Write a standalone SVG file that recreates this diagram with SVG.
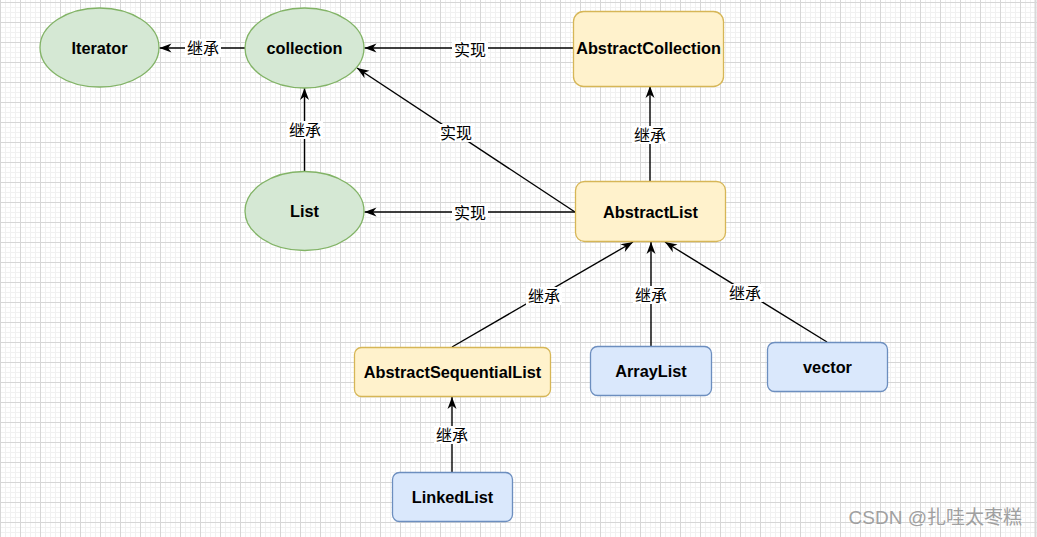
<svg xmlns="http://www.w3.org/2000/svg" width="1037" height="537" viewBox="0 0 1037 537">
  <defs>
    <pattern id="grid" patternUnits="userSpaceOnUse" x="20" y="2" width="20" height="20">
      <rect width="20" height="20" fill="#ffffff"/>
      <path d="M5.5 0V20M10.5 0V20M15.5 0V20M0 5.5H20M0 10.5H20M0 15.5H20" stroke="#f1f1f1" stroke-width="1" fill="none"/>
      <path d="M0.5 0V20M0 0.5H20" stroke="#d6d6d6" stroke-width="1" fill="none"/>
    </pattern>
    <marker id="arr" markerUnits="userSpaceOnUse" markerWidth="14" markerHeight="12" refX="12" refY="4.5" orient="auto" overflow="visible">
      <path d="M0,0 L12,4.5 L0,9 L3.5,4.5 z" fill="#000"/>
    </marker>
    <style>
      .ell { fill: #d5e8d4; stroke: #82b366; stroke-width: 1.3; }
      .yel { fill: #fff2cc; stroke: #d6b656; stroke-width: 1.3; }
      .blu { fill: #dae8fc; stroke: #6c8ebf; stroke-width: 1.3; }
      .nt { font-family: "Liberation Sans", Arial, sans-serif; font-weight: bold; font-size: 16.3px; fill: #000; text-anchor: middle; }
      .edge { stroke: #000; stroke-width: 1.4; fill: none; marker-end: url(#arr); }
      .lbg { fill: #ffffff; }
      .lt { font-family: "Noto Sans CJK SC", "Noto Sans", sans-serif; font-size: 16px; fill: #000; text-anchor: middle; }
    </style>
  </defs>
  <rect width="1037" height="537" fill="url(#grid)"/>
  <line x1="1035.5" y1="0" x2="1035.5" y2="537" stroke="#d8d8d8" stroke-width="2"/>

  <g id="connectors">
    <path class="edge" d="M245,48 L159.5,48"/>
    <rect class="lbg" x="185" y="39" width="36" height="18"/>
    <text class="lt" x="203" y="53.5">继承</text>

    <path class="edge" d="M573,48 L364.5,48"/>
    <rect class="lbg" x="452" y="41" width="36" height="18"/>
    <text class="lt" x="470" y="55.5">实现</text>

    <path class="edge" d="M304.5,172 L304.5,88"/>
    <rect class="lbg" x="287" y="121" width="36" height="18"/>
    <text class="lt" x="305" y="135.5">继承</text>

    <path class="edge" d="M575,212 L357,68"/>
    <rect class="lbg" x="438" y="124" width="36" height="18"/>
    <text class="lt" x="456" y="138.5">实现</text>

    <path class="edge" d="M575,212 L364.5,212"/>
    <rect class="lbg" x="452" y="204" width="36" height="18"/>
    <text class="lt" x="470" y="218.5">实现</text>

    <path class="edge" d="M650,181 L650,86"/>
    <rect class="lbg" x="632" y="126" width="36" height="18"/>
    <text class="lt" x="650" y="140.5">继承</text>

    <path class="edge" d="M452,347 L633,242"/>
    <rect class="lbg" x="526" y="287" width="36" height="18"/>
    <text class="lt" x="544" y="301.5">继承</text>

    <path class="edge" d="M651,346 L651,242"/>
    <rect class="lbg" x="633" y="286" width="36" height="18"/>
    <text class="lt" x="651" y="300.5">继承</text>

    <path class="edge" d="M827,342 L665,242"/>
    <rect class="lbg" x="727" y="284" width="36" height="18"/>
    <text class="lt" x="745" y="298.5">继承</text>

    <path class="edge" d="M452,472 L452,397"/>
    <rect class="lbg" x="434" y="426" width="36" height="18"/>
    <text class="lt" x="452" y="440.5">继承</text>
  </g>

  <g id="node-iterator">
    <ellipse class="ell" cx="99.5" cy="47.5" rx="59.5" ry="39.5"/>
    <text class="nt" x="99.5" y="53.5">Iterator</text>
  </g>
  <g id="node-collection">
    <ellipse class="ell" cx="304.5" cy="48" rx="59.5" ry="40"/>
    <text class="nt" x="304.5" y="54">collection</text>
  </g>
  <g id="node-list">
    <ellipse class="ell" cx="304.5" cy="211" rx="59.5" ry="39.5"/>
    <text class="nt" x="304.5" y="217">List</text>
  </g>
  <g id="node-abstractcollection">
    <rect class="yel" x="573.5" y="11.5" width="150" height="75" rx="10"/>
    <text class="nt" x="648.5" y="54">AbstractCollection</text>
  </g>
  <g id="node-abstractlist">
    <rect class="yel" x="575.5" y="181.5" width="150" height="60" rx="9"/>
    <text class="nt" x="650.5" y="217.5">AbstractList</text>
  </g>
  <g id="node-abstractsequentiallist">
    <rect class="yel" x="354.5" y="347.5" width="196" height="49" rx="7"/>
    <text class="nt" x="452.5" y="377.5">AbstractSequentialList</text>
  </g>
  <g id="node-arraylist">
    <rect class="blu" x="590.5" y="346.5" width="121" height="49" rx="7"/>
    <text class="nt" x="651" y="376.5">ArrayList</text>
  </g>
  <g id="node-vector">
    <rect class="blu" x="767.5" y="342.5" width="120" height="49" rx="7"/>
    <text class="nt" x="827.5" y="372.5">vector</text>
  </g>
  <g id="node-linkedlist">
    <rect class="blu" x="392.5" y="472.5" width="120" height="49" rx="7"/>
    <text class="nt" x="452.5" y="502.5">LinkedList</text>
  </g>

  <text x="1022" y="524" text-anchor="end" font-family="'Liberation Sans', 'Noto Sans CJK SC', sans-serif" font-size="19" fill="#a0a0a0">CSDN @扎哇太枣糕</text>
</svg>
